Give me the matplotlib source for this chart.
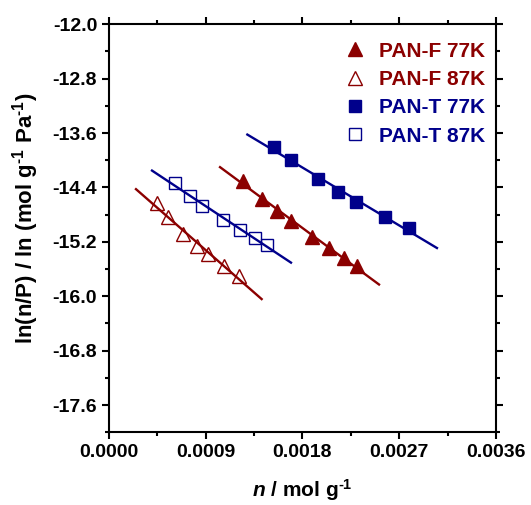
import numpy as np
import matplotlib.pyplot as plt

plt.rcParams['font.family'] = 'Liberation Sans'
plt.rcParams['font.weight'] = 'bold'
plt.rcParams['axes.labelweight'] = 'bold'
plt.rcParams['mathtext.fontset'] = 'custom'
plt.rcParams['mathtext.rm'] = 'Liberation Sans:bold'
plt.rcParams['mathtext.it'] = 'Liberation Sans:italic:bold'
plt.rcParams['mathtext.bf'] = 'Liberation Sans:bold'

# uptake n (mol/g) and ln(n/P) for each sample / temperature
n_f77 = [0.001249, 0.001423, 0.001563, 0.001696, 0.001886, 0.002046, 0.002183, 0.002307]
lnp_f77 = [-14.300, -14.569, -14.745, -14.897, -15.124, -15.294, -15.432, -15.554]

n_f87 = [0.000444, 0.000546, 0.000691, 0.000821, 0.000918, 0.001067, 0.001212]
lnp_f87 = [-14.624, -14.829, -15.088, -15.256, -15.382, -15.550, -15.697]

n_t77 = [0.001538, 0.001693, 0.001941, 0.002133, 0.002298, 0.002570, 0.002793]
lnp_t77 = [-13.809, -14.000, -14.275, -14.462, -14.609, -14.834, -15.000]

n_t87 = [0.000611, 0.000753, 0.000868, 0.001063, 0.001221, 0.001355, 0.001467]
lnp_t87 = [-14.329, -14.529, -14.672, -14.874, -15.025, -15.143, -15.241]

# x span of each fitted line
fit_f77 = [0.001033, 0.002512]
fit_f87 = [0.000251, 0.001420]
fit_t77 = [0.001287, 0.003051]
fit_t87 = [0.000400, 0.001693]

red = '#8b0000'
blue = '#00008b'

fig = plt.figure(figsize=(5.31, 5.05), dpi=100)
ax = fig.add_axes([0.2053, 0.144, 0.7287, 0.808])

series = [
    (n_f77, lnp_f77, fit_f77, red, '^', True, 'PAN-F 77K', 10),
    (n_f87, lnp_f87, fit_f87, red, '^', False, 'PAN-F 87K', 10),
    (n_t77, lnp_t77, fit_t77, blue, 's', True, 'PAN-T 77K', 8),
    (n_t87, lnp_t87, fit_t87, blue, 's', False, 'PAN-T 87K', 8),
]

for x, y, xr, c, m, filled, lab, ms in series:
    k, b = np.polyfit(x, y, 1)
    xr = np.array(xr)
    ax.plot(xr, k * xr + b, color=c, lw=1.7, zorder=2)
    ax.plot(x, y, linestyle='none', marker=m, ms=ms,
            mfc=c if filled else 'none', mec=c, mew=1.0, label=lab, zorder=3)

ax.set_xlim(0, 0.0036)
ax.set_ylim(-18.0, -12.0)
ax.set_xticks(np.arange(0, 0.00361, 0.0009))
ax.set_xticks(np.arange(0, 0.00361, 0.00045), minor=True)
ax.set_yticks(np.arange(-17.6, -11.99, 0.8))
ax.set_yticks(np.arange(-18.0, -11.99, 0.4), minor=True)
ax.set_xticklabels(['%.4f' % v for v in np.arange(0, 0.00361, 0.0009)])
ax.set_yticklabels(['%.1f' % v for v in np.arange(-17.6, -11.99, 0.8)])

for s in ax.spines.values():
    s.set_linewidth(1.5)
ax.tick_params(which='both', direction='out', width=1.5, labelsize=14,
               top=True, right=True)
ax.tick_params(which='major', length=5)
ax.tick_params(which='minor', length=3)

ax.set_xlabel(r'$n$ / mol g$^{\text{-}1}$', fontsize=15)
ax.set_ylabel(r'ln(n/P) / ln (mol g$^{\text{-}1}$ Pa$^{\text{-}1}$)', fontsize=16)
ax.xaxis.set_label_coords(0.5, -0.11)
ax.yaxis.set_label_coords(-0.175, 0.525)

ax.legend(loc='upper right', bbox_to_anchor=(1.0, 0.983), frameon=False,
          labelcolor=[red, red, blue, blue],
          handletextpad=0.15, labelspacing=0.45, borderaxespad=0.1,
          prop={'weight': 'bold', 'size': 15})

fig.savefig('out.png', dpi=100)
